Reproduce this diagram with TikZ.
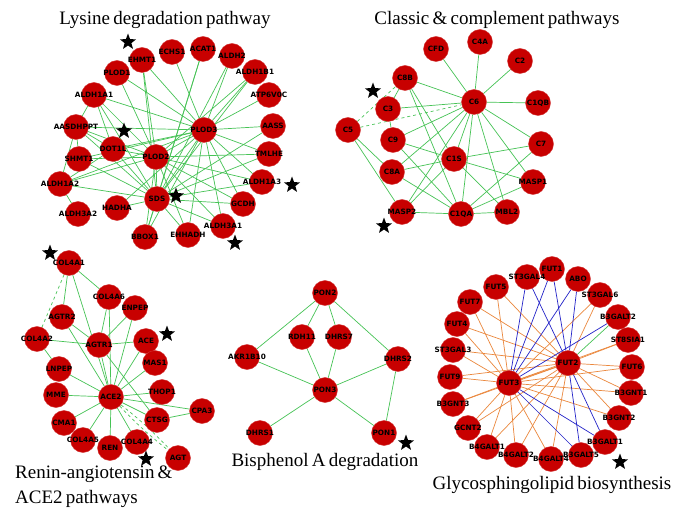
\documentclass[tikz,border=0pt]{standalone}
\usepackage{fontspec}
\setmainfont{Liberation Serif}
\newfontfamily\lblfont{DejaVu Sans}
\usetikzlibrary{shapes.geometric,backgrounds}
\definecolor{nred}{RGB}{200,0,0}
\definecolor{egreen}{RGB}{70,195,85}
\definecolor{eorange}{RGB}{235,135,60}
\definecolor{eblue}{RGB}{35,35,200}
\newcommand\ttlfont{\fontsize{19}{25}\selectfont\spaceskip=0.17em plus 0.05em minus 0.05em\relax}
\begin{document}
\begin{tikzpicture}[x=1pt,y=-1pt,
  lbl/.style={font=\lblfont\bfseries\fontsize{7.3}{8}\selectfont, text=black, inner sep=0pt},
  gene/.style={circle, fill=nred, draw=nred!80!white, line width=0.4pt, minimum size=25pt, inner sep=0pt, label={[lbl]center:#1}},
  eg/.style={draw=egreen, line width=0.7pt},
  egd/.style={eg, dashed},
  eo/.style={draw=eorange, line width=0.7pt},
  eb/.style={draw=eblue, line width=0.7pt},
  starm/.style={star, star points=5, star point ratio=2.4, fill=black, draw=none, minimum size=17pt, inner sep=0pt},
  title/.style={font=\ttlfont, inner sep=0pt, text=black}
]
\useasboundingbox (0,0) rectangle (685,513);
\begin{pgfonlayer}{background}
\fill[white] (0,0) rectangle (685,513);
\end{pgfonlayer}

% ---------- Titles
\node[title] (t1) at (165,20) {Lysine degradation pathway};
\node[title] (t2) at (497,20) {Classic \& complement pathways};
\node[title, anchor=north west, align=left] (t3) at (15,466) {Renin-angiotensin \&\\ACE2 pathways};
\node[title] (t4) at (325,462) {Bisphenol A degradation};
\node[title] (t5) at (552,485) {Glycosphingolipid biosynthesis};

% ---------- Lysine
\node[gene=EHMT1] (lEHMT1) at (142,60) {};
\node[gene=ECHS1] (lECHS1) at (172,52) {};
\node[gene=ACAT1] (lACAT1) at (203,49) {};
\node[gene=ALDH2] (lALDH2) at (232,56) {};
\node[gene=ALDH1B1] (lALDH1B1) at (255,72) {};
\node[gene=ATP6V0C] (lATP6V0C) at (269,95) {};
\node[gene=AASS] (lAASS) at (273,126) {};
\node[gene=TMLHE] (lTMLHE) at (269,154) {};
\node[gene=ALDH1A3] (lALDH1A3) at (262,182) {};
\node[gene=GCDH] (lGCDH) at (243,204) {};
\node[gene=ALDH3A1] (lALDH3A1) at (223,226) {};
\node[gene=EHHADH] (lEHHADH) at (188,235) {};
\node[gene=BBOX1] (lBBOX1) at (145,237) {};
\node[gene=HADHA] (lHADHA) at (117,208) {};
\node[gene=SDS] (lSDS) at (157,199) {};
\node[gene=ALDH3A2] (lALDH3A2) at (78,214) {};
\node[gene=ALDH1A2] (lALDH1A2) at (60,184) {};
\node[gene=SHMT1] (lSHMT1) at (79,159) {};
\node[gene=DOT1L] (lDOT1L) at (113,149) {};
\node[gene=PLOD2] (lPLOD2) at (156,157) {};
\node[gene=AASDHPPT] (lAASDHPPT) at (76,127) {};
\node[gene=ALDH1A1] (lALDH1A1) at (94,95) {};
\node[gene=PLOD1] (lPLOD1) at (117,73) {};
\node[gene=PLOD3] (lPLOD3) at (204,130) {};

\begin{pgfonlayer}{background}
\foreach \t in {EHMT1,ECHS1,PLOD1,ALDH1A1,AASDHPPT,DOT1L,SHMT1,ALDH1A2,HADHA,SDS,BBOX1,EHHADH,ALDH3A1,GCDH,ALDH1A3,TMLHE,AASS,ATP6V0C,ALDH1B1,PLOD2}
  \draw[eg] (lPLOD3) -- (l\t);
\foreach \t in {PLOD1,ALDH1A1,AASDHPPT,DOT1L,SHMT1,ALDH1A2,TMLHE,ALDH1A3,GCDH,ALDH3A1,EHHADH,BBOX1,ALDH1B1,SDS,EHMT1}
  \draw[eg] (lPLOD2) -- (l\t);
\foreach \t in {EHMT1,ACAT1,ALDH2,ALDH1B1,AASS,TMLHE,ALDH1A3,GCDH,ALDH3A1,EHHADH,BBOX1,HADHA,ALDH1A2,SHMT1,AASDHPPT,ALDH1A1,DOT1L}
  \draw[eg] (lSDS) -- (l\t);
\draw[eg] (lALDH1A1) -- (lAASDHPPT);
\draw[eg] (lAASDHPPT) -- (lSHMT1);
\draw[eg] (lAASDHPPT) -- (lALDH1A2);
\draw[eg] (lALDH1A2) -- (lALDH3A2);
\draw[eg] (lAASDHPPT) -- (lDOT1L);
\draw[eg] (lALDH1A1) -- (lDOT1L);
\draw[eg] (lACAT1) -- (lBBOX1);
\draw[eg] (lALDH2) -- (lPLOD3);
\draw[eg] (lALDH1A2) -- (lDOT1L);
\end{pgfonlayer}

\node[starm] (s1) at (128,42) {};
\node[starm] (s2) at (124,131) {};
\node[starm] (s3) at (176,196) {};
\node[starm] (s4) at (292,185) {};
\node[starm] (s5) at (235,243) {};

% ---------- Complement
\node[gene=CFD] (cCFD) at (436,49) {};
\node[gene=C4A] (cC4A) at (480,42) {};
\node[gene=C2] (cC2) at (520,61) {};
\node[gene=C8B] (cC8B) at (405,78) {};
\node[gene=C6] (cC6) at (474,102) {};
\node[gene=C1QB] (cC1QB) at (538,103) {};
\node[gene=C3] (cC3) at (388,109) {};
\node[gene=C5] (cC5) at (348,130) {};
\node[gene=C9] (cC9) at (393,140) {};
\node[gene=C7] (cC7) at (541,144) {};
\node[gene=C1S] (cC1S) at (454,159) {};
\node[gene=C8A] (cC8A) at (392,172) {};
\node[gene=MASP1] (cMASP1) at (533,182) {};
\node[gene=MASP2] (cMASP2) at (402,212) {};
\node[gene=C1QA] (cC1QA) at (461,214) {};
\node[gene=MBL2] (cMBL2) at (507,212) {};

\begin{pgfonlayer}{background}
\foreach \t in {CFD,C4A,C2,C1QB,C8B,C3,C9,C8A,MASP2,C1QA,C1S,MBL2,MASP1,C7}
  \draw[eg] (cC6) -- (c\t);
\draw[egd] (cC5) -- (cC6);
\draw[egd] (cC5) -- (cC8B);
\draw[eg] (cC5) -- (cC8A);
\draw[eg] (cC5) -- (cMASP2);
\draw[eg] (cC8B) -- (cC3);
\draw[eg] (cC8B) -- (cC1S);
\draw[eg] (cC8B) -- (cC1QA);
\draw[eg] (cC3) -- (cC9);
\draw[eg] (cC9) -- (cC1S);
\draw[eg] (cC9) -- (cC1QA);
\draw[eg] (cC8A) -- (cC1S);
\draw[eg] (cC8A) -- (cC1QA);
\draw[eg] (cC1S) -- (cC7);
\draw[eg] (cC1S) -- (cMASP1);
\draw[eg] (cC1S) -- (cMASP2);
\draw[eg] (cC1S) -- (cMBL2);
\draw[eg] (cMASP2) -- (cC1QA);
\draw[eg] (cC1QA) -- (cC7);
\draw[eg] (cC1QA) -- (cMASP1);
\draw[eg] (cC1QA) -- (cMBL2);
\end{pgfonlayer}

\node[starm] (s6) at (373,91) {};
\node[starm] (s7) at (384,226) {};

% ---------- Renin
\node[gene=COL4A1] (rCOL4A1) at (69,263) {};
\node[gene=COL4A6] (rCOL4A6) at (109,297) {};
\node[gene=ENPEP] (rENPEP) at (135,308) {};
\node[gene=AGTR2] (rAGTR2) at (62,317) {};
\node[gene=COL4A2] (rCOL4A2) at (37,339) {};
\node[gene=AGTR1] (rAGTR1) at (99,345) {};
\node[gene=ACE] (rACE) at (146,341) {};
\node[gene=MAS1] (rMAS1) at (155,363) {};
\node[gene=LNPEP] (rLNPEP) at (59,369) {};
\node[gene=THOP1] (rTHOP1) at (162,392) {};
\node[gene=MME] (rMME) at (56,395) {};
\node[gene=ACE2] (rACE2) at (111,397) {};
\node[gene=CPA3] (rCPA3) at (202,411) {};
\node[gene=CMA1] (rCMA1) at (64,423) {};
\node[gene=CTSG] (rCTSG) at (157,420) {};
\node[gene=COL4A5] (rCOL4A5) at (83,440) {};
\node[gene=REN] (rREN) at (110,448) {};
\node[gene=COL4A4] (rCOL4A4) at (137,442) {};
\node[gene=AGT] (rAGT) at (178,458) {};

\begin{pgfonlayer}{background}
\foreach \t in {COL4A1,COL4A6,ENPEP,AGTR2,AGTR1,ACE,MAS1,LNPEP,MME,THOP1,CPA3,CMA1,CTSG,COL4A5,REN,COL4A4}
  \draw[eg] (rACE2) -- (r\t);
\draw[eg] (rCOL4A1) -- (rCOL4A6);
\draw[eg] (rCOL4A1) -- (rAGTR2);
\draw[egd] (rCOL4A1) -- (rCOL4A2);
\draw[eg] (rCOL4A6) -- (rAGTR1);
\draw[eg] (rENPEP) -- (rAGTR1);
\draw[eg] (rAGTR2) -- (rAGTR1);
\draw[eg] (rCOL4A2) -- (rAGTR1);
\draw[eg] (rCOL4A2) -- (rLNPEP);
\draw[eg] (rAGTR1) -- (rACE);
\draw[eg] (rAGTR1) -- (rCTSG);
\draw[eg] (rCTSG) -- (rCPA3);
\draw[egd] (rACE2) to[bend left=4] (rAGT);
\draw[egd] (rACE2) to[bend right=4] (rAGT);
\end{pgfonlayer}

\node[starm] (s8) at (50,253) {};
\node[starm] (s9) at (167,334) {};
\node[starm] (s10) at (146,459) {};

% ---------- Bisphenol
\node[gene=PON2] (bPON2) at (325,293) {};
\node[gene=RDH11] (bRDH11) at (302,337) {};
\node[gene=DHRS7] (bDHRS7) at (339,337) {};
\node[gene=AKR1B10] (bAKR1B10) at (247,357) {};
\node[gene=DHRS2] (bDHRS2) at (398,359) {};
\node[gene=PON3] (bPON3) at (325,390) {};
\node[gene=DHRS1] (bDHRS1) at (260,433) {};
\node[gene=PON1] (bPON1) at (384,433) {};
\begin{pgfonlayer}{background}
\foreach \t in {AKR1B10,RDH11,DHRS7,DHRS2}
  \draw[eg] (bPON2) -- (b\t);
\foreach \t in {RDH11,DHRS7,AKR1B10,DHRS2,DHRS1,PON1}
  \draw[eg] (bPON3) -- (b\t);
\draw[eg] (bDHRS2) -- (bPON1);
\end{pgfonlayer}
\node[starm] (s11) at (406,443) {};

% ---------- Glyco
\node[gene=FUT1] (gFUT1) at (552,269) {};
\node[gene=ST3GAL4] (gST3GAL4) at (527,277) {};
\node[gene=ABO] (gABO) at (578,279) {};
\node[gene=FUT5] (gFUT5) at (496,287) {};
\node[gene=ST3GAL6] (gST3GAL6) at (600,295) {};
\node[gene=FUT7] (gFUT7) at (470,302) {};
\node[gene=B3GALT2] (gB3GALT2) at (618,317) {};
\node[gene=FUT4] (gFUT4) at (457,324) {};
\node[gene=ST8SIA1] (gST8SIA1) at (628,340) {};
\node[gene=ST3GAL3] (gST3GAL3) at (453,350) {};
\node[gene=FUT2] (gFUT2) at (568,363) {};
\node[gene=FUT6] (gFUT6) at (632,367) {};
\node[gene=FUT9] (gFUT9) at (450,377) {};
\node[gene=FUT3] (gFUT3) at (509,383) {};
\node[gene=B3GNT1] (gB3GNT1) at (631,393) {};
\node[gene=B3GNT3] (gB3GNT3) at (453,404) {};
\node[gene=B3GNT2] (gB3GNT2) at (619,418) {};
\node[gene=GCNT2] (gGCNT2) at (468,428) {};
\node[gene=B3GALT1] (gB3GALT1) at (605,442) {};
\node[gene=B4GALT1] (gB4GALT1) at (487,447) {};
\node[gene=B3GALT5] (gB3GALT5) at (581,455) {};
\node[gene=B4GALT2] (gB4GALT2) at (516,455) {};
\node[gene=B4GALT4] (gB4GALT4) at (551,459) {};
\begin{pgfonlayer}{background}
\foreach \t in {FUT5,FUT7,FUT4,ST3GAL3,FUT9,B3GNT3,GCNT2,B4GALT1,B4GALT2,B4GALT4,ST3GAL6,ST8SIA1,FUT6,B3GNT1,B3GNT2}
  {\draw[eo] (gFUT3) -- (g\t); \draw[eo] (gFUT2) -- (g\t);}
\draw[eo] (gFUT2) -- (gFUT3);
\foreach \t in {ST3GAL4,FUT1,ABO,B3GALT2,B3GALT1,B3GALT5}
  \draw[eb] (gFUT3) -- (g\t);
\foreach \t in {ST3GAL4,FUT1,ABO,B3GALT1,B3GALT5}
  \draw[eb] (gFUT2) -- (g\t);
\draw[eg] (gFUT2) -- (gB3GALT2);
\end{pgfonlayer}
\node[starm] (s12) at (620,462) {};
\end{tikzpicture}
\end{document}
